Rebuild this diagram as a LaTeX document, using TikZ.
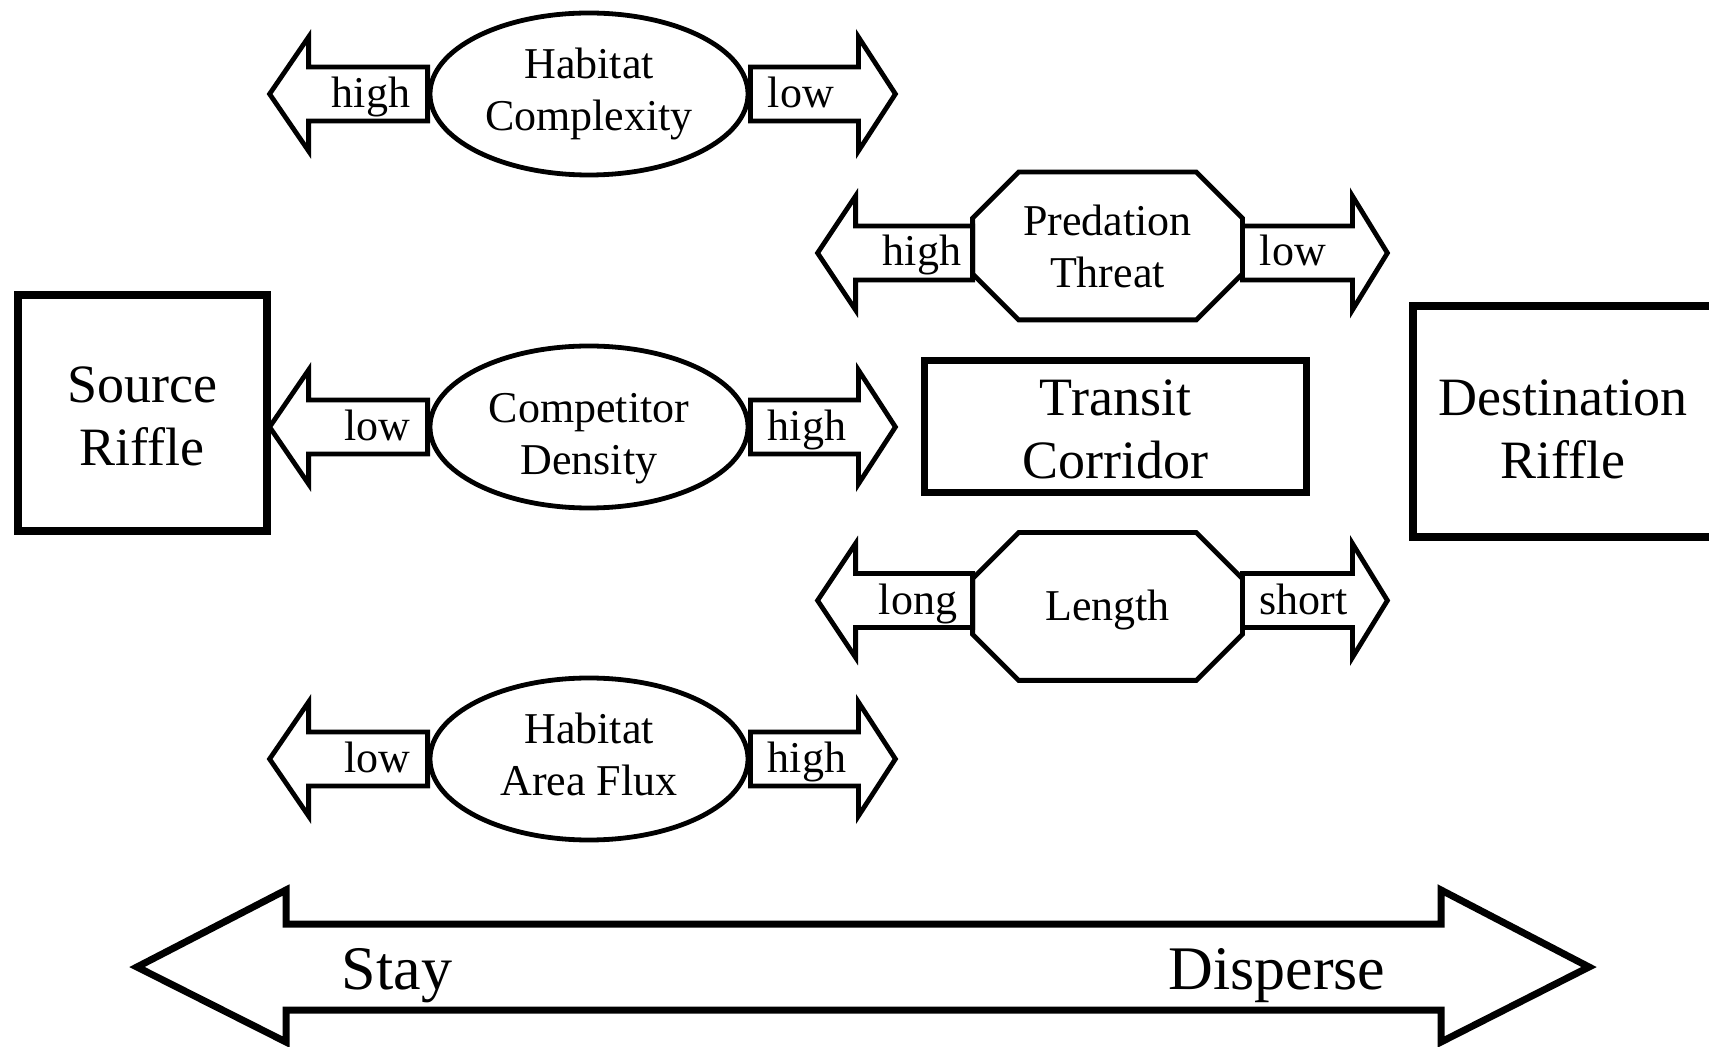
\documentclass[tikz,border=0pt]{standalone}
\usepackage{fontspec}
\setmainfont{Liberation Serif}
\usetikzlibrary{shapes.geometric}
\tikzset{
        factor/.style={ellipse,draw,line width=2.4pt,minimum width=159pt,minimum height=81pt,inner sep=0pt,align=center,font=\fontsize{22}{26}\selectfont},
        octbox/.style={rectangle,minimum width=134.5pt,minimum height=73.5pt,inner sep=0pt,align=center,font=\fontsize{22}{26}\selectfont},
        octline/.style={line width=2.4pt,line join=miter},
        riffle/.style={rectangle,draw,line width=4pt,inner sep=0pt,align=center,font=\fontsize{27}{31.5}\selectfont},
        blockarrow/.style={line width=2.4pt,line join=miter},
        lbl/.style={inner sep=0pt,font=\fontsize{22}{26}\selectfont},
        bigtxt/.style={inner sep=0pt,font=\fontsize{31}{36}\selectfont},
        }

\begin{document}
\begin{tikzpicture}[x=0.5pt,y=-0.5pt]

		\useasboundingbox (0,0) rectangle (1709,1047);

		% riffles and corridor...................
		\node [riffle,minimum width=124.5pt,minimum height=118pt] (src) at (142,413.5) {\rule{0pt}{21pt}Source\\Riffle};
		\node [riffle,minimum width=150pt,minimum height=115.5pt] (dst) at (1563,422) {\rule{0pt}{25.5pt}Destination\\Riffle};
		\node [riffle,line width=3.5pt,minimum width=191pt,minimum height=66pt] (tc) at (1115.5,426.5) {\rule{0pt}{21pt}Transit\\Corridor};

		% ellipse factors....................
		\node [factor] (hc) at (589,94) {Habitat\\Complexity};
		\node [factor] (cd) at (589,427) {\rule{0pt}{26pt}Competitor\\Density};
		\node [factor] (haf) at (589,759) {Habitat\\Area Flux\rule[-5pt]{0pt}{1pt}};

		% octagon factors....................
		\node [octbox] (pt) at (1107.5,246) {Predation\\Threat};
		\draw [octline] ([xshift=23pt]pt.north west) -- ([xshift=-23pt]pt.north east) -- ([yshift=-23pt]pt.north east) -- ([yshift=23pt]pt.south east) -- ([xshift=-23pt]pt.south east) -- ([xshift=23pt]pt.south west) -- ([yshift=23pt]pt.south west) -- ([yshift=-23pt]pt.north west) -- cycle;
		\node [octbox] (len) at (1107.5,606.5) {\rule{0pt}{19pt}Length};
		\draw [octline] ([xshift=23pt]len.north west) -- ([xshift=-23pt]len.north east) -- ([yshift=-23pt]len.north east) -- ([yshift=23pt]len.south east) -- ([xshift=-23pt]len.south east) -- ([xshift=23pt]len.south west) -- ([yshift=23pt]len.south west) -- ([yshift=-23pt]len.north west) -- cycle;

		% block arrows at the ellipses...............
		\draw [blockarrow] (hc.west) ++(0,-27) -- ++(-119,0) -- ++(0,-30) -- ++(-39,57) -- ++(39,57) -- ++(0,-30) -- ++(119,0) -- cycle;
		\draw [blockarrow] (hc.east) ++(0,-27) -- ++(108,0) -- ++(0,-30) -- ++(37,57) -- ++(-37,57) -- ++(0,-30) -- ++(-108,0) -- cycle;
		\draw [blockarrow] (cd.west) ++(0,-27) -- ++(-119,0) -- ++(0,-30) -- ++(-39,57) -- ++(39,57) -- ++(0,-30) -- ++(119,0) -- cycle;
		\draw [blockarrow] (cd.east) ++(0,-27) -- ++(108,0) -- ++(0,-30) -- ++(37,57) -- ++(-37,57) -- ++(0,-30) -- ++(-108,0) -- cycle;
		\draw [blockarrow] (haf.west) ++(0,-27) -- ++(-119,0) -- ++(0,-30) -- ++(-39,57) -- ++(39,57) -- ++(0,-30) -- ++(119,0) -- cycle;
		\draw [blockarrow] (haf.east) ++(0,-27) -- ++(108,0) -- ++(0,-30) -- ++(37,57) -- ++(-37,57) -- ++(0,-30) -- ++(-108,0) -- cycle;

		% block arrows at the octagons...............
		\draw [blockarrow] (pt.west) ++(0,-20) -- ++(-117,0) -- ++(0,-30) -- ++(-38,57) -- ++(38,57) -- ++(0,-30) -- ++(117,0) -- cycle;
		\draw [blockarrow] (pt.east) ++(0,-20) -- ++(110,0) -- ++(0,-30) -- ++(35,57) -- ++(-35,57) -- ++(0,-30) -- ++(-110,0) -- cycle;
		\draw [blockarrow] (len.west) ++(0,-33) -- ++(-117,0) -- ++(0,-30) -- ++(-38,57) -- ++(38,57) -- ++(0,-30) -- ++(117,0) -- cycle;
		\draw [blockarrow] (len.east) ++(0,-33) -- ++(110,0) -- ++(0,-30) -- ++(35,57) -- ++(-35,57) -- ++(0,-30) -- ++(-110,0) -- cycle;

		% arrow labels..............................
		\node [lbl,anchor=base east] (hcl) at ([xshift=-8.5pt,yshift=-7pt]hc.west) {high};
		\node [lbl,anchor=base west] (hcr) at ([xshift=8.5pt,yshift=-7pt]hc.east) {low};
		\node [lbl,anchor=base east] (cdl) at ([xshift=-8.5pt,yshift=-7pt]cd.west) {low};
		\node [lbl,anchor=base west] (cdr) at ([xshift=8.5pt,yshift=-7pt]cd.east) {high};
		\node [lbl,anchor=base east] (hafl) at ([xshift=-8.5pt,yshift=-7pt]haf.west) {low};
		\node [lbl,anchor=base west] (hafr) at ([xshift=8.5pt,yshift=-7pt]haf.east) {high};
		\node [lbl,anchor=base east] (ptl) at ([xshift=-5.5pt,yshift=-10pt]pt.west) {high};
		\node [lbl,anchor=base west] (ptr) at ([xshift=8.5pt,yshift=-10pt]pt.east) {low};
		\node [lbl,anchor=base east] (lenl) at ([xshift=-7.5pt,yshift=-4pt]len.west) {long};
		\node [lbl,anchor=base west] (lenr) at ([xshift=8.5pt,yshift=-4pt]len.east) {short};

		% stay / disperse arrow.....................
		\draw [blockarrow,line width=3.5pt] (137,967) -- (286,890) -- (286,924) -- (1441,924) -- (1441,890) -- (1589,967) -- (1441,1042) -- (1441,1010) -- (286,1010) -- (286,1042) -- cycle;
		\node [bigtxt,anchor=base] (stay) at (397,989) {Stay};
		\node [bigtxt,anchor=base] (disp) at (1277,989) {Disperse};

	\end{tikzpicture}
\end{document}
